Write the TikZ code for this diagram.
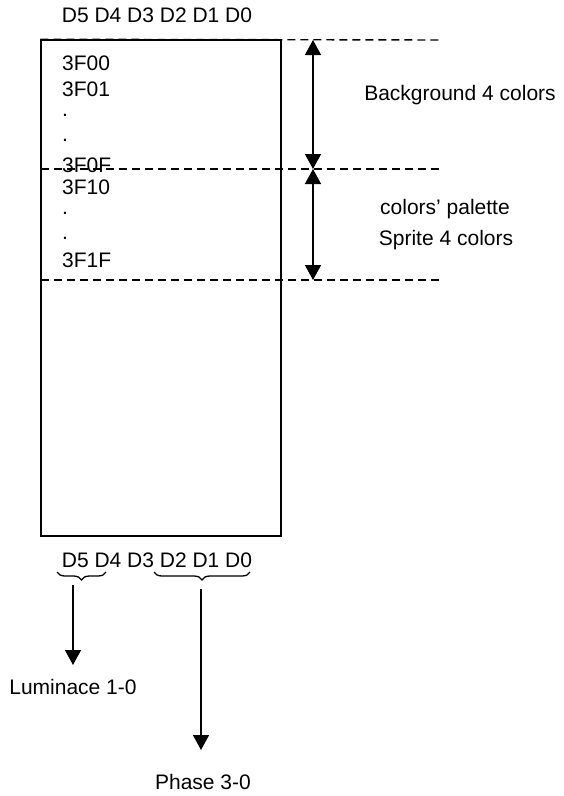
\documentclass[tikz,border=0pt]{standalone}
\usepackage{fontspec}
\setmainfont{Liberation Sans}
\usetikzlibrary{arrows.meta, positioning, calc, decorations.pathreplacing}
\tikzset{
    lbl/.style = {inner sep=0pt, font=\fontsize{21}{24}\selectfont},
    addr/.style = {lbl, anchor=west},
    membox/.style = {rectangle, draw=black, line width=1.5pt, minimum width=240pt, minimum height=496pt, inner sep=0pt},
    dashline/.style = {line width=1.4pt, dash pattern=on 8pt off 5pt},
    dimarrow/.style = {line width=1.4pt, {Triangle[length=15pt,width=16pt]}-{Triangle[length=15pt,width=16pt]}},
    arrow/.style = {line width=1.4pt, -{Triangle[length=15pt,width=16pt]}},
    bitbrace/.style = {line width=1.3pt, decorate, decoration={brace, mirror, amplitude=8pt}}
}
\begin{document}
\begin{tikzpicture}[x=1pt, y=-1pt]
\useasboundingbox (0,0) rectangle (563,796);
% memory block
\node (topbits) [lbl] at (157,15) {D5 D4 D3 D2 D1 D0};
\node (mem) [membox] at (161,288) {};
\node (a00) [addr] at (62,63) {3F00};
\node (a01) [addr] at (62,89) {3F01};
\node (dt1) [addr] at (62,115) {.};
\node (dt2) [addr] at (62,140) {.};
\node (a0f) [addr] at (62,165) {3F0F};
\node (a10) [addr] at (62,187) {3F10};
\node (dt3) [addr] at (62,213) {.};
\node (dt4) [addr] at (62,238) {.};
\node (a1f) [addr] at (62,260) {3F1F};

% palette ranges
\coordinate (l1) at (41,169);
\coordinate (l2) at (41,280);
\coordinate (r0) at (441,40);
\coordinate (r1) at (441,169);
\coordinate (r2) at (441,280);
\draw [dashline] (mem.north west) -- (r0);
\draw [dashline] (l1) -- (r1);
\draw [dashline] (l2) -- (r2);
\coordinate (v0) at (313,40);
\coordinate (v1) at (313,169);
\coordinate (v2) at (313,280);
\draw [dimarrow] (v0) -- (v1);
\draw [dimarrow] (v1) -- (v2);
\node (bg) [lbl] at (460,95) {Background 4 colors};
\node (pal) [lbl] at (445,209) {colors' palette};
\node (spr) [lbl] at (446,240) {Sprite 4 colors};

% bit fields
\node (botbits) [lbl] at (157,560) {D5 D4 D3 D2 D1 D0};
\coordinate (lumL) at (57,572);
\coordinate (lumR) at (106,572);
\coordinate (phL) at (154,572);
\coordinate (phR) at (250,572);
\draw [bitbrace] (lumL) -- (lumR);
\draw [bitbrace] (phL) -- (phR);
\node (lum) [lbl] at (73,687) {Luminace 1-0};
\node (ph) [lbl] at (203,782) {Phase 3-0};
\coordinate (lumT) at (73,585);
\coordinate (lumB) at (73,665);
\coordinate (phT) at (201,589);
\coordinate (phB) at (201,750);
\draw [arrow] (lumT) -- (lumB);
\draw [arrow] (phT) -- (phB);
\end{tikzpicture}
\end{document}
